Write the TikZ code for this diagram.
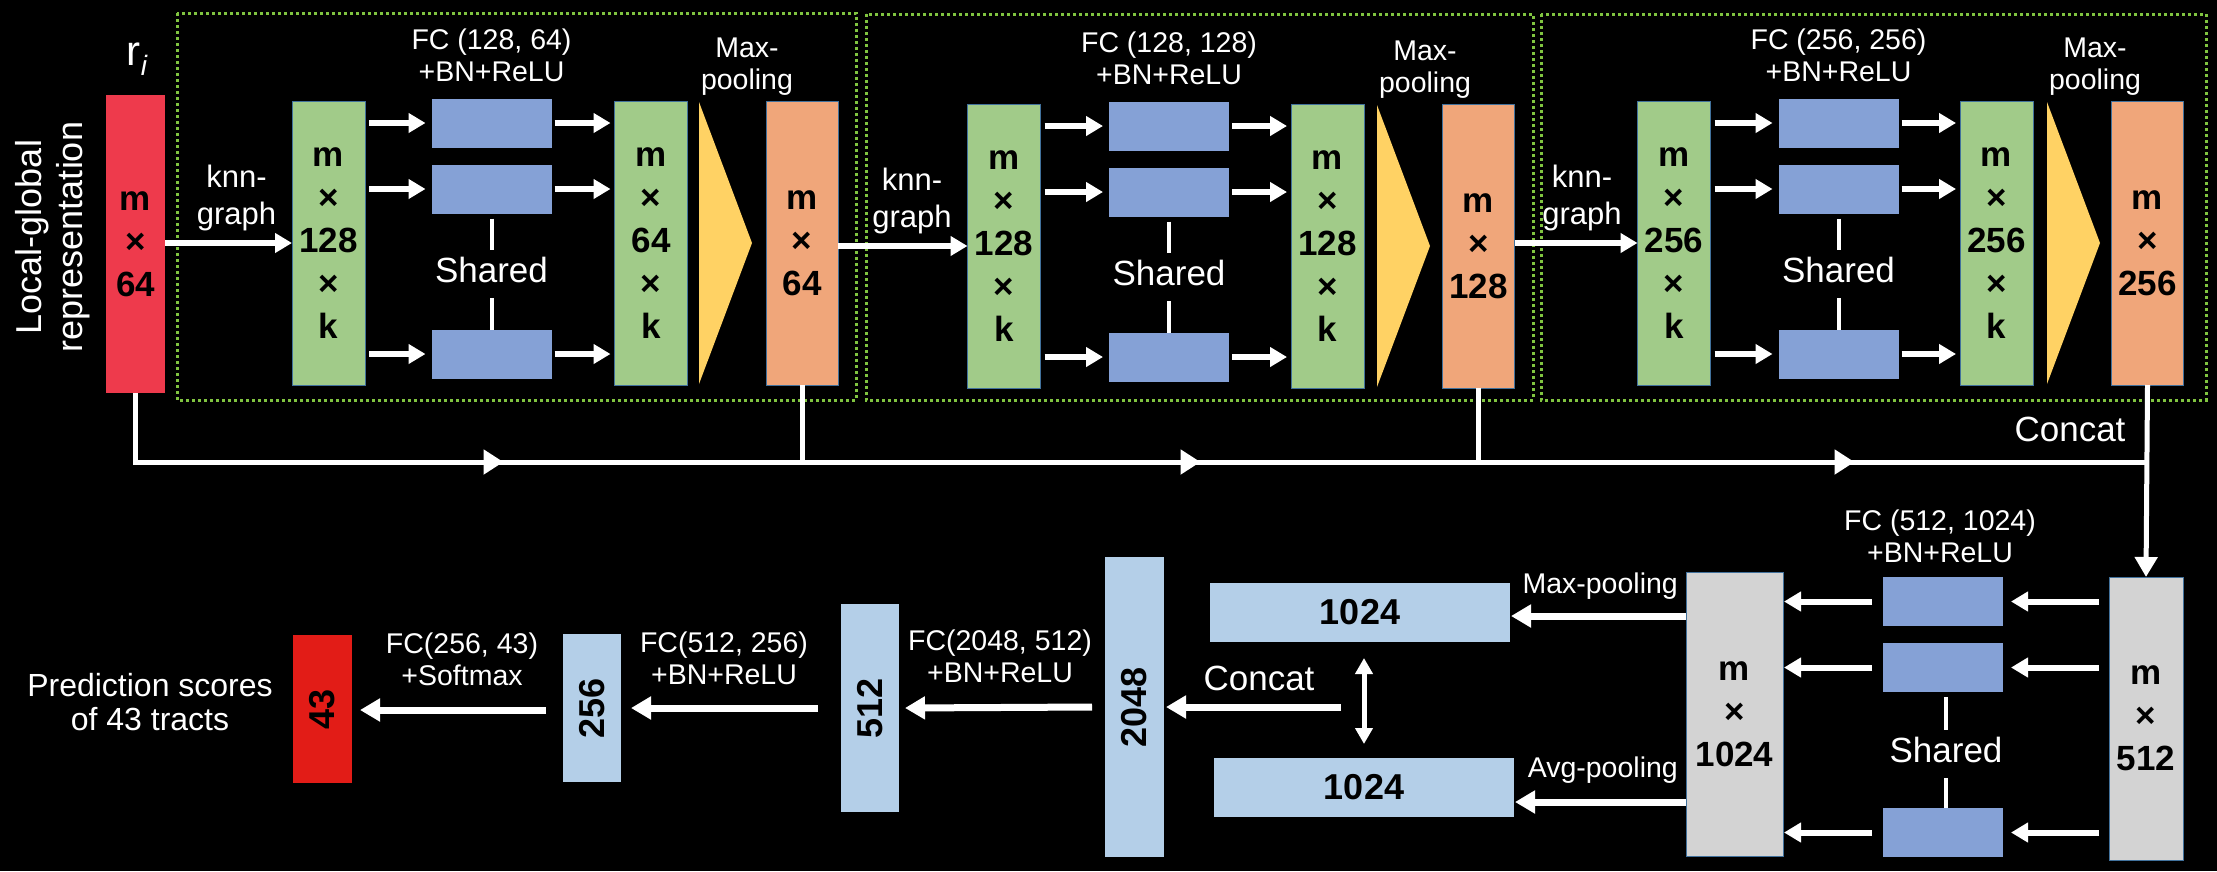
\documentclass[tikz,border=0pt]{standalone}
\usepackage{fontspec}
\setmainfont{Liberation Sans}
\usepackage{graphicx}
\usetikzlibrary{arrows.meta,calc,decorations.markings}
\newcommand\myfs[2]{\fontsize{#1}{#2}\selectfont}
\definecolor{redA}{RGB}{238,58,76}
\definecolor{redB}{RGB}{226,28,23}
\definecolor{greenA}{RGB}{161,203,137}
\definecolor{blueA}{RGB}{133,161,214}
\definecolor{orangeA}{RGB}{240,166,122}
\definecolor{yellowA}{RGB}{255,210,100}
\definecolor{lblueA}{RGB}{180,207,232}
\definecolor{greyA}{RGB}{211,211,211}
\definecolor{bordA}{RGB}{65,113,156}
\definecolor{dotG}{RGB}{128,196,64}
\tikzset{
 boxs/.style={rectangle, draw=bordA, line width=1pt, inner sep=0pt, outer sep=0pt},
 fcbox/.style={rectangle, fill=blueA, minimum width=120pt, minimum height=49pt, inner sep=0pt, outer sep=0pt},
 lbbox/.style={rectangle, fill=lblueA, inner sep=0pt, outer sep=0pt, font=\myfs{36}{36}\bfseries, text=black},
 numtxt/.style={font=\myfs{35}{43}\bfseries, align=center, text=black},
 txt/.style={text=white, inner sep=0pt},
 lab/.style={text=white, inner sep=0pt, align=center, font=\myfs{28.5}{32}},
 arw/.style={draw=white, line width=6pt, -{Triangle[length=17pt,width=19pt]}},
 barw/.style={draw=white, line width=7pt, -{Triangle[length=20pt,width=22pt]}},
 conn/.style={color=white, line width=5pt},
 sline/.style={draw=white, line width=4pt},
 dotbox/.style={draw=dotG, line width=3pt, dash pattern=on 3pt off 3pt},
}
% #1 id, #2 green A x, #3 blue x, #4 green B x, #5 triangle left x, #6 orange x, #7 y centre, #8 dim A, #9 dim B
\newcommand\myblock[9]{%
  \node[boxs, fill=greenA, minimum width=73pt, minimum height=284pt, numtxt] (gA#1) at (#2,#7) {m\\×\\#8\\×\\k};
  \node[fcbox] (bA#1) at (#3,#7-120) {};
  \node[fcbox] (bB#1) at (#3,#7-54) {};
  \node[fcbox] (bC#1) at (#3,#7+111) {};
  \node[boxs, fill=greenA, minimum width=73pt, minimum height=284pt, numtxt] (gB#1) at (#4,#7) {m\\×\\#9\\×\\k};
  \fill[yellowA] (#5,#7-141) -- (#5+53,#7) -- (#5,#7+141) -- cycle;
  \node[boxs, fill=orangeA, minimum width=72pt, minimum height=284pt, numtxt] (oR#1) at (#6,#7) {m\\×\\#9};
  \foreach \rw in {bA#1,bB#1,bC#1}{%
    \draw[arw] ($(gA#1.east |- \rw.west)+(4,0)$) -- ($(\rw.west)+(-6,0)$);
    \draw[arw] ($(\rw.east)+(3,0)$) -- ($(gB#1.west |- \rw.east)+(-4,0)$);
  }
  \node[txt, font=\myfs{35}{40}] (sh#1) at (#3,#7+27) {Shared};
  \draw[sline] ($(bB#1.south)+(0,5)$) -- ($(sh#1.center)+(0,-20)$);
  \draw[sline] ($(sh#1.center)+(0,28)$) -- (bC#1.north);
  \node[lab] (fc#1) at (#3,#7-188) {FC (#8, #9)\\+BN+ReLU};
  \node[lab] (mp#1) at (#5+48,#7-176) {Max-\\pooling};
  \node[lab, font=\myfs{31}{37}] (kn#1) at (#2-92,#7-45.5) {knn-\\graph};
}
\begin{document}
\begin{tikzpicture}[x=1pt,y=-1pt]
\fill[black] (0,0) rectangle (2217,871);
\useasboundingbox (0,0) rectangle (2217,871);

% dotted frames
\draw[dotbox] (177,13) rectangle (856,400);
\draw[dotbox] (866,14) rectangle (1533,400);
\draw[dotbox] (1541,14) rectangle (2206,400);

% input
\node[txt, font=\myfs{36}{41}, align=center, rotate=90] (lg) at (53,237) {Local-global\\representation};
\node[txt, font=\myfs{42}{42}] (ri) at (137,59) {r\raisebox{-10pt}{\myfs{28}{28}\itshape i}};
\node[boxs, draw=none, fill=redA, minimum width=59pt, minimum height=298pt, numtxt] (red) at (135.5,244) {m\\×\\64};

\myblock{a}{328.5}{491.5}{651}{699}{802}{243}{128}{64}
\myblock{b}{1004}{1169}{1327.5}{1377}{1478.5}{246}{128}{128}
\myblock{c}{1674}{1838.5}{1996.5}{2047}{2147.5}{243}{256}{256}

\draw[arw] (red.east |- gAa.west) -- (gAa.west);
\draw[arw] (oRa.east |- gAb.west) -- (gAb.west);
\draw[arw] (oRb.east |- gAc.west) -- (gAc.west);

% bottom right stage
\node[boxs, fill=greyA, minimum width=74pt, minimum height=283pt, numtxt] (g512) at (2146,718.5) {m\\×\\512};
\node[boxs, fill=greyA, minimum width=97pt, minimum height=284pt, numtxt] (g1024) at (1734.5,714) {m\\×\\1024};
\node[fcbox] (fb1) at (1943,601.5) {};
\node[fcbox] (fb2) at (1943,667.5) {};
\node[fcbox] (fb3) at (1943,832.5) {};
\foreach \rw in {fb1,fb2,fb3}{%
  \draw[arw] ($(g512.west |- \rw.east)+(-10,0)$) -- ($(\rw.east)+(8,0)$);
  \draw[arw] ($(\rw.west)+(-11,0)$) -- ($(g1024.east |- \rw.west)+(1,0)$);
}
\node[txt, font=\myfs{35}{40}] (shd) at (1946,750) {Shared};
\draw[sline] ($(shd.center |- fb2.south)+(0,5)$) -- ($(shd.center)+(0,-20)$);
\draw[sline] ($(shd.center)+(0,28)$) -- (shd.center |- fb3.north);
\node[lab] (fcd) at (1940,536) {FC (512, 1024)\\+BN+ReLU};

% main concat line
\coordinate (mline) at (0,462);
\draw[conn, postaction={decorate}, decoration={markings,
  mark=at position 437pt with {\arrow{Triangle[length=20pt,width=24pt]}},
  mark=at position 1134pt with {\arrow{Triangle[length=20pt,width=24pt]}},
  mark=at position 1788pt with {\arrow{Triangle[length=20pt,width=24pt]}}}]
  (red.south) |- (oRc.south |- mline);
\draw[conn] (oRa.south) -- (oRa.south |- mline);
\draw[conn] (oRb.south) -- (oRb.south |- mline);
\draw[conn, -{Triangle[length=20pt,width=22pt]}] (oRc.south) -- (g512.north);
\node[txt, font=\myfs{35}{40}] (cc1) at (2070,429) {Concat};

% pooling
\node[lbbox, minimum width=300pt, minimum height=59pt] (t1024) at (1360,612.5) {1024};
\node[lbbox, minimum width=300pt, minimum height=59pt] (a1024) at (1364,787.5) {1024};
\draw[barw] ($(g1024.west)+(0,-98)$) -- ($(t1024.east)+(1,3.5)$);
\draw[barw] ($(g1024.west)+(0,88)$) -- ($(a1024.east)+(1,14.5)$);
\node[txt, font=\myfs{28.5}{32}, anchor=base east] (mpl) at (1678,593) {Max-pooling};
\node[txt, font=\myfs{28.5}{32}, anchor=base east] (apl) at (1678,777) {Avg-pooling};
\draw[white, line width=5pt, {Triangle[length=16pt,width=17pt]}-{Triangle[length=16pt,width=17pt]}] ($(t1024.south)+(4,16)$) -- ($(a1024.north)+(0,-14)$);
\node[txt, font=\myfs{35}{40}] (cc2) at (1259,678) {Concat};
\coordinate (ccs) at (1341,707);

% classifier
\node[lbbox, minimum width=59pt, minimum height=300pt] (n2048) at (1134.5,707) {\rotatebox{90}{2048}};
\node[lbbox, minimum width=58pt, minimum height=208pt] (n512) at (870,708) {\rotatebox{90}{512}};
\node[lbbox, minimum width=58pt, minimum height=148pt] (n256) at (592,708) {\rotatebox{90}{256}};
\node[lbbox, fill=redB, minimum width=59pt, minimum height=148pt] (n43) at (322.5,709) {\rotatebox{90}{43}};
\draw[barw] (ccs) -- ($(n2048.east)+(2,0)$);
\draw[barw] ($(n2048.west)+(-13,0)$) -- ($(n512.east)+(6,0)$);
\draw[barw] ($(n512.west)+(-23,0)$) -- ($(n256.east)+(10,0)$);
\draw[barw] ($(n256.west)+(-17,2)$) -- ($(n43.east)+(8,1)$);
\node[lab] (fc2048) at (1000,656.5) {FC(2048, 512)\\+BN+ReLU};
\node[lab] (fc512) at (724,658.5) {FC(512, 256)\\+BN+ReLU};
\node[lab] (fc256) at (462,659.5) {FC(256, 43)\\+Softmax};
\node[txt, font=\myfs{32}{34}, align=center] (pred) at (150,702.5) {Prediction scores\\of 43 tracts};
\end{tikzpicture}
\end{document}
